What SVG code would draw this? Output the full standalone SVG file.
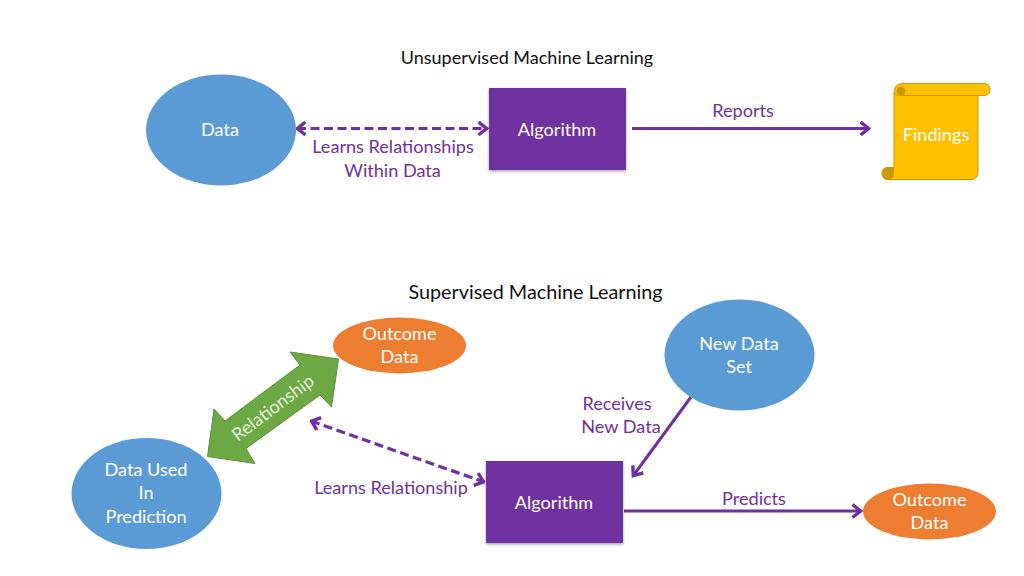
<svg xmlns="http://www.w3.org/2000/svg" width="1024" height="576" viewBox="0 0 1024 576">
  <style>
    text { font-family: "Lato", "Carlito", "Open Sans", sans-serif; font-size: 18.100px; text-anchor: middle; }
    .title { fill: #111; font-size: 18px; }
    .title-large { font-size: 19.800px; }
    .light { fill: #fff; }
    .label { fill: #7030a0; }
    .blue { fill: #5b9bd5; }
    .orange { fill: #ed7d31; }
    .algo { fill: #7030a0; filter: url(#lift); }
    .line { fill: none; stroke: #7030a0; stroke-width: 3; }
    .solid { marker-end: url(#head); }
    .dash { stroke-width: 3.200; stroke-dasharray: 9 4.500; marker-start: url(#head); marker-end: url(#head); }
  </style>
  <defs>
    <marker id="head" viewBox="0 0 14 16" refX="12.500" refY="8" markerWidth="14" markerHeight="16" markerUnits="userSpaceOnUse" orient="auto-start-reverse">
      <path d="M4 1.500 L12 8 L4 14.500" fill="none" stroke="#7030a0" stroke-width="3.400"/>
    </marker>
    <filter id="lift" x="-10%" y="-10%" width="120%" height="125%">
      <feDropShadow dx="0" dy="1.500" stdDeviation="1.500" flood-color="#000" flood-opacity="0.35"/>
    </filter>
  </defs>

  <text class="title" x="527" y="64">Unsupervised Machine Learning</text>
  <text class="title title-large" x="535.500" y="298.500">Supervised Machine Learning</text>

  <g id="connectors">
    <path class="line dash" d="M297 128.500 H487"/>
    <path class="line solid" d="M632 128.500 H869"/>
    <path class="line dash" d="M311 421 L484 482"/>
    <path class="line solid" d="M691 397 L633 476"/>
    <path class="line solid" d="M624 511 H861"/>
  </g>

  <g id="data">
    <ellipse class="blue" cx="221" cy="130" rx="75" ry="55.500"/>
    <text class="light" x="220" y="135.500">Data</text>
  </g>
  <g id="algorithm-top">
    <rect class="algo" x="489" y="88" width="137" height="82"/>
    <text class="light" x="557" y="135.500">Algorithm</text>
  </g>
  <g id="findings">
    <path d="M894 93 Q894 83.500 903 83.500 H984 Q990 83.500 990 89.500 Q990 95.500 984 95.500 H978 V172 Q978 179.500 971 179.500 H888 Q882 179.500 882 173.500 Q882 167.500 888 167.500 H894 Z" fill="#ffc000" stroke="#c99700" stroke-width="1"/>
    <path d="M894 93 Q894 95.500 903 95.500 H984" fill="none" stroke="#c99700" stroke-width="1"/>
    <circle cx="901" cy="91" r="4.500" fill="#cc9a00"/>
    <path d="M888 167.500 H894 V173 Q894 179.500 888 179.500 Q882 179.500 882 173.500 Q882 167.500 888 167.500 Z" fill="#cc9a00"/>
    <text class="light" x="936" y="140.500">Findings</text>
  </g>
  <g id="outcome-upper">
    <ellipse class="orange" cx="399.500" cy="345.500" rx="66.500" ry="28"/>
    <text class="light"><tspan x="399.500" y="339.500">Outcome</tspan><tspan x="399.500" y="362.500">Data</tspan></text>
  </g>
  <g id="new-data-set">
    <ellipse class="blue" cx="739.500" cy="355" rx="75" ry="55.500"/>
    <text class="light"><tspan x="739" y="349.500">New Data</tspan><tspan x="739" y="372.500">Set</tspan></text>
  </g>
  <g id="prediction-data">
    <ellipse class="blue" cx="146.500" cy="493.500" rx="75" ry="55.500"/>
    <text class="light"><tspan x="146" y="475.500">Data Used</tspan><tspan x="146" y="498.500">In</tspan><tspan x="146" y="522.500">Prediction</tspan></text>
  </g>
  <g id="relationship">
    <polygon points="338.500,359 290,352 300,365 225,421 214,409 207.500,456.500 255,463.500 246,448.500 320,395 331.500,407" fill="#6ca844" stroke="#5b8f39" stroke-width="1"/>
    <text class="light" transform="translate(273 408) rotate(-37)" y="6" style="fill:#e2f0d9">Relationship</text>
  </g>
  <g id="algorithm-bottom">
    <rect class="algo" x="486" y="461" width="137" height="82"/>
    <text class="light" x="554" y="508.500">Algorithm</text>
  </g>
  <g id="outcome-lower">
    <ellipse class="orange" cx="929.500" cy="511.500" rx="66.500" ry="28"/>
    <text class="light"><tspan x="929.500" y="505.500">Outcome</tspan><tspan x="929.500" y="528.500">Data</tspan></text>
  </g>

  <g id="labels">
    <text class="label" x="743" y="116.500">Reports</text>
    <text class="label"><tspan x="393" y="152.500">Learns Relationships</tspan><tspan x="392.500" y="176.500">Within Data</tspan></text>
    <text class="label" x="391" y="493.500">Learns Relationship</text>
    <text class="label"><tspan x="617" y="409.500">Receives</tspan><tspan x="621" y="432.500">New Data</tspan></text>
    <text class="label" x="754" y="504.500">Predicts</text>
  </g>
</svg>
